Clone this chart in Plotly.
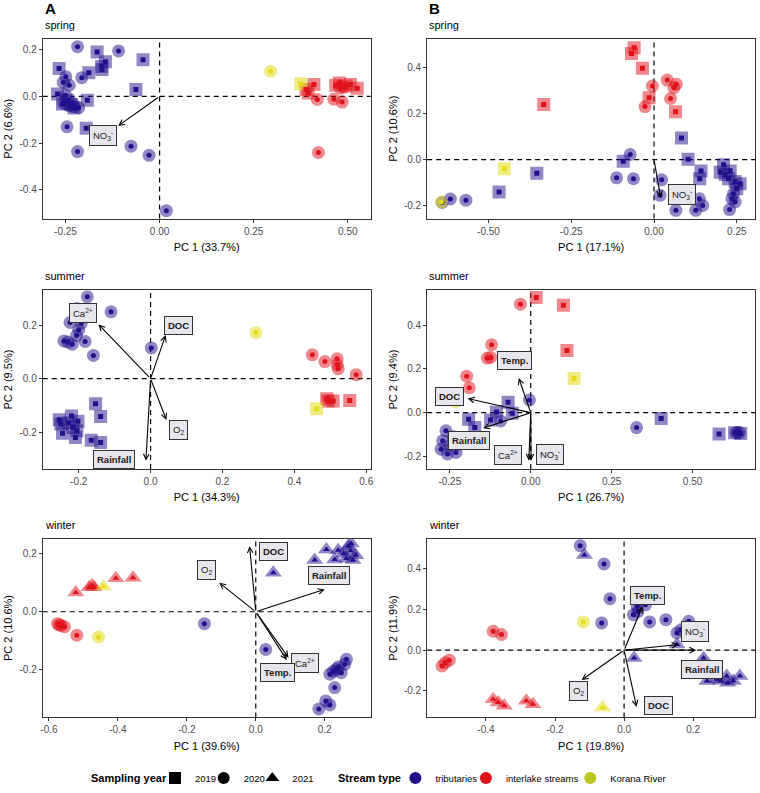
import plotly.graph_objects as go

# ─── PCA scores (PC1, PC2) ────────────────────────────────────────────────────
# A / spring
A_SPR_TRIB_2019 = [(-0.166, 0.190), (-0.144, 0.148), (-0.154, 0.128), (-0.153, 0.115),
                   (-0.188, 0.101), (-0.267, 0.120), (-0.044, 0.157), (-0.063, 0.030),
                   (-0.271, 0.010), (-0.245, -0.016), (-0.192, -0.016), (-0.258, -0.032),
                   (-0.227, -0.050), (-0.195, -0.136), (-0.235, -0.035)]
A_SPR_TRIB_2020 = [(-0.218, 0.213), (-0.109, 0.195), (-0.207, 0.080), (-0.249, 0.084),
                   (-0.256, 0.060), (-0.240, 0.048), (-0.250, 0.005), (-0.255, -0.030),
                   (-0.240, -0.040), (-0.228, -0.045), (-0.215, -0.048), (-0.232, -0.028),
                   (-0.246, -0.130), (-0.218, -0.236), (-0.076, -0.213), (-0.028, -0.252),
                   (0.018, -0.489)]
A_SPR_INTER_2019 = [(0.410, 0.051), (0.389, 0.030), (0.478, 0.058), (0.468, 0.048),
                    (0.507, 0.051), (0.525, 0.035), (0.495, 0.045), (0.395, 0.015)]
A_SPR_INTER_2020 = [(0.419, -0.013), (0.463, -0.012), (0.485, -0.024), (0.422, -0.240),
                    (0.490, 0.040), (0.480, 0.035)]
A_SPR_KOR_2019 = [(0.375, 0.054)]
A_SPR_KOR_2020 = [(0.295, 0.108)]
A_SPR_VARS = ["NO3"]
A_SPR_LOAD = [(-0.110, -0.126)]
A_SPR_LBL = [(-0.151, -0.169)]

# B / spring
B_SPR_TRIB_2019 = [(0.083, 0.094), (0.103, 0.001), (-0.093, -0.007), (-0.354, -0.059),
                   (-0.468, -0.141), (0.142, -0.050), (0.138, -0.083), (0.210, -0.022),
                   (0.200, -0.055), (0.230, -0.050), (0.225, -0.083), (0.260, -0.105),
                   (0.250, -0.127), (0.245, -0.095), (0.215, -0.065)]
B_SPR_TRIB_2020 = [(-0.072, 0.022), (-0.113, -0.079), (-0.062, -0.083), (0.023, -0.088),
                   (0.018, -0.155), (0.066, -0.220), (0.126, -0.220), (0.147, -0.199),
                   (0.137, -0.170), (0.235, -0.170), (0.240, -0.148), (0.228, -0.217),
                   (0.245, -0.184), (-0.568, -0.176), (-0.615, -0.171), (-0.640, -0.186)]
B_SPR_INTER_2019 = [(-0.060, 0.485), (-0.068, 0.460), (-0.035, 0.396), (-0.333, 0.239),
                    (-0.015, 0.268), (0.065, 0.207)]
B_SPR_INTER_2020 = [(-0.005, 0.319), (0.040, 0.345), (0.067, 0.327), (0.060, 0.312),
                    (0.050, 0.265), (-0.027, 0.230)]
B_SPR_KOR_2019 = [(-0.452, -0.040)]
B_SPR_KOR_2020 = [(-0.642, -0.184)]
B_SPR_VARS = ["NO3"]
B_SPR_LOAD = [(0.020, -0.165)]
B_SPR_LBL = [(0.085, -0.153)]

# A / summer
A_SUM_TRIB_2019 = [(-0.254, -0.154), (-0.250, -0.170), (-0.245, -0.204), (-0.220, -0.140),
                   (-0.216, -0.183), (-0.202, -0.159), (-0.209, -0.220), (-0.228, -0.165),
                   (-0.205, -0.195), (-0.153, -0.094), (-0.139, -0.142), (-0.165, -0.230),
                   (-0.139, -0.239)]
A_SUM_TRIB_2020 = [(-0.176, 0.306), (-0.110, 0.250), (-0.205, 0.262), (-0.224, 0.210),
                   (-0.193, 0.207), (-0.200, 0.182), (-0.206, 0.161), (-0.241, 0.141),
                   (-0.230, 0.137), (-0.218, 0.129), (-0.182, 0.139), (-0.159, 0.087),
                   (0.002, 0.115)]
A_SUM_INTER_2019 = [(0.494, -0.084), (0.508, -0.084), (0.554, -0.082), (0.490, -0.075)]
A_SUM_INTER_2020 = [(0.450, 0.089), (0.485, 0.064), (0.519, 0.074), (0.519, 0.052),
                    (0.522, 0.037), (0.572, 0.015)]
A_SUM_KOR_2019 = [(0.462, -0.113)]
A_SUM_KOR_2020 = [(0.293, 0.172)]
A_SUM_VARS = ["Ca", "DOC", "O2", "Rainfall"]
A_SUM_LOAD = [(-0.145, 0.203), (0.042, 0.163), (0.044, -0.155), (-0.013, -0.307)]
A_SUM_LBL = [(-0.188, 0.244), (0.079, 0.198), (0.079, -0.193), (-0.102, -0.302)]

# B / summer
B_SUM_TRIB_2019 = [(-0.070, 0.048), (-0.106, 0.003), (-0.057, -0.003), (-0.124, -0.033),
                   (-0.192, -0.030), (-0.173, -0.068), (0.403, -0.027), (0.582, -0.098),
                   (0.649, -0.095), (0.630, -0.092)]
B_SUM_TRIB_2020 = [(-0.004, 0.058), (0.327, -0.068), (0.634, -0.091), (0.645, -0.091),
                   (-0.093, -0.038), (-0.262, -0.083), (-0.272, -0.129), (-0.277, -0.167),
                   (-0.257, -0.189), (-0.231, -0.182), (-0.221, -0.144), (-0.200, -0.129),
                   (-0.240, -0.110), (-0.250, -0.150)]
B_SUM_INTER_2019 = [(0.017, 0.527), (0.101, 0.492), (0.112, 0.285)]
B_SUM_INTER_2020 = [(-0.032, 0.497), (-0.121, 0.311), (-0.134, 0.250), (-0.124, 0.253),
                    (-0.198, 0.167), (-0.190, 0.114)]
B_SUM_KOR_2019 = [(0.134, 0.156)]
B_SUM_KOR_2020 = [(-0.233, 0.050)]
B_SUM_VARS = ["Temp", "DOC", "Rainfall", "Ca", "NO3"]
B_SUM_LOAD = [(-0.037, 0.159), (-0.195, 0.065), (-0.147, -0.071), (-0.006, -0.220), (0.001, -0.220)]
B_SUM_LBL = [(-0.050, 0.238), (-0.250, 0.076), (-0.192, -0.129), (-0.070, -0.192), (0.060, -0.192)]

# A / winter
A_WIN_TRIB_2020 = [(-0.149, -0.041), (0.029, -0.130), (0.263, -0.164), (0.258, -0.181),
                   (0.215, -0.215), (0.234, -0.198), (0.248, -0.210), (0.240, -0.190),
                   (0.229, -0.261), (0.203, -0.307), (0.215, -0.321), (0.183, -0.335),
                   (0.225, -0.205)]
A_WIN_TRIB_2021 = [(0.051, 0.134), (0.205, 0.214), (0.239, 0.212), (0.268, 0.226),
                   (0.275, 0.210), (0.263, 0.183), (0.282, 0.178), (0.171, 0.178),
                   (0.229, 0.180), (0.277, 0.235), (0.255, 0.200), (0.290, 0.195)]
A_WIN_INTER_2020 = [(-0.575, -0.041), (-0.565, -0.047), (-0.555, -0.052), (-0.519, -0.081),
                    (-0.570, -0.045)]
A_WIN_INTER_2021 = [(-0.522, 0.066), (-0.483, 0.084), (-0.469, 0.084), (-0.406, 0.115),
                    (-0.356, 0.117), (-0.475, 0.090)]
A_WIN_KOR_2020 = [(-0.456, -0.087)]
A_WIN_KOR_2021 = [(-0.442, 0.087)]
A_WIN_VARS = ["DOC", "O2", "Rainfall", "Ca", "Temp"]
A_WIN_LOAD = [(-0.018, 0.226), (-0.106, 0.100), (0.200, 0.077), (0.095, -0.158), (0.090, -0.166)]
A_WIN_LBL = [(0.051, 0.206), (-0.144, 0.144), (0.212, 0.126), (0.142, -0.175), (0.063, -0.210)]

# B / winter
B_WIN_TRIB_2020 = [(-0.127, 0.514), (-0.058, 0.424), (-0.041, 0.253), (-0.065, 0.134),
                   (0.027, 0.174), (0.038, 0.215), (0.062, 0.223), (0.074, 0.139),
                   (0.121, 0.150), (0.187, 0.142), (0.153, 0.085), (0.165, 0.100),
                   (0.040, 0.190)]
B_WIN_TRIB_2021 = [(-0.115, 0.468), (0.029, -0.038), (0.153, 0.028), (0.230, -0.038),
                   (0.240, -0.152), (0.268, -0.143), (0.297, -0.127), (0.316, -0.152),
                   (0.335, -0.127), (0.300, -0.160), (0.280, -0.150)]
B_WIN_INTER_2020 = [(-0.379, 0.093), (-0.355, 0.077), (-0.527, -0.078), (-0.518, -0.062),
                    (-0.506, -0.049)]
B_WIN_INTER_2021 = [(-0.379, -0.241), (-0.364, -0.258), (-0.347, -0.274), (-0.283, -0.249),
                    (-0.264, -0.266)]
B_WIN_KOR_2020 = [(-0.118, 0.139)]
B_WIN_KOR_2021 = [(-0.062, -0.282)]
B_WIN_VARS = ["Temp", "NO3", "Rainfall", "O2", "DOC"]
B_WIN_LOAD = [(0.053, 0.215), (0.158, 0.028), (0.209, 0.000), (-0.123, -0.147), (0.036, -0.279)]
B_WIN_LBL = [(0.069, 0.267), (0.206, 0.093), (0.225, -0.095), (-0.131, -0.200), (0.099, -0.274)]

# explained variance (%) per season: spring, summer, winter
A_VAR_PC1 = [33.7, 34.3, 39.6]
A_VAR_PC2 = [6.6, 9.5, 10.6]
B_VAR_PC1 = [17.1, 26.7, 19.8]
B_VAR_PC2 = [10.6, 9.4, 11.9]
SEASONS = ["spring", "summer", "winter"]

STREAMS = ["tributaries", "interlake streams", "Korana River"]
YEARS = [2019, 2020, 2021]

# ─── styling ──────────────────────────────────────────────────────────────────
FONT = "Liberation Sans, Arial, sans-serif"
SOLID = {"tributaries": "#21108c", "interlake streams": "#e0121a", "Korana River": "#e3dc1a"}
HALO = {"tributaries": "rgba(33,16,140,0.5)", "interlake streams": "rgba(224,18,26,0.5)",
        "Korana River": "rgba(227,220,26,0.55)"}
LEGEND_COL = {"tributaries": "#21108c", "interlake streams": "#e0121a", "Korana River": "#bcc51e"}
SYMBOL = {2019: "square", 2020: "circle", 2021: "triangle-up"}
HALO_SIZE = {2019: 13, 2020: 13, 2021: 15}
DOT_SIZE = {2019: 5, 2020: 5, 2021: 6}
LABELS = {"NO3": "NO<sub>3</sub><sup>-</sup>", "Ca": "Ca<sup>2+</sup>", "O2": "O<sub>2</sub>",
          "DOC": "<b>DOC</b>", "Rainfall": "<b>Rainfall</b>", "Temp": "<b>Temp.</b>"}

W, H = 760, 793
COL_PX = [(41, 371), (428, 758)]
ROW_PX = [(39, 220), (292, 472), (542, 722)]
LEG_Y_PX = 783
YEAR_LEG_X_PX = [154, 203, 252]        # left edge of each legend key box
STREAM_LEG_X_PX = [396, 467, 572]

# panel layout: (column, row, groups, vars, loadings, label pos, x range, y range, x ticks, y ticks, fmt x, fmt y)
PANELS = [
    (0, 0, [("tributaries", 2019, A_SPR_TRIB_2019), ("tributaries", 2020, A_SPR_TRIB_2020),
            ("interlake streams", 2019, A_SPR_INTER_2019), ("interlake streams", 2020, A_SPR_INTER_2020),
            ("Korana River", 2019, A_SPR_KOR_2019), ("Korana River", 2020, A_SPR_KOR_2020)],
     A_SPR_VARS, A_SPR_LOAD, A_SPR_LBL, [-0.3105, 0.5605], [-0.523, 0.247],
     [-0.25, 0, 0.25, 0.5], [-0.4, -0.2, 0, 0.2], ".2f", ".1f"),
    (1, 0, [("tributaries", 2019, B_SPR_TRIB_2019), ("tributaries", 2020, B_SPR_TRIB_2020),
            ("interlake streams", 2019, B_SPR_INTER_2019), ("interlake streams", 2020, B_SPR_INTER_2020),
            ("Korana River", 2019, B_SPR_KOR_2019), ("Korana River", 2020, B_SPR_KOR_2020)],
     B_SPR_VARS, B_SPR_LOAD, B_SPR_LBL, [-0.685, 0.305], [-0.256, 0.524],
     [-0.5, -0.25, 0, 0.25], [-0.2, 0, 0.2, 0.4], ".2f", ".1f"),
    (0, 1, [("tributaries", 2019, A_SUM_TRIB_2019), ("tributaries", 2020, A_SUM_TRIB_2020),
            ("interlake streams", 2019, A_SUM_INTER_2019), ("interlake streams", 2020, A_SUM_INTER_2020),
            ("Korana River", 2019, A_SUM_KOR_2019), ("Korana River", 2020, A_SUM_KOR_2020)],
     A_SUM_VARS, A_SUM_LOAD, A_SUM_LBL, [-0.300, 0.612], [-0.338, 0.331],
     [-0.2, 0, 0.2, 0.4, 0.6], [-0.2, 0, 0.2], ".1f", ".1f"),
    (1, 1, [("tributaries", 2019, B_SUM_TRIB_2019), ("tributaries", 2020, B_SUM_TRIB_2020),
            ("interlake streams", 2019, B_SUM_INTER_2019), ("interlake streams", 2020, B_SUM_INTER_2020),
            ("Korana River", 2019, B_SUM_KOR_2019), ("Korana River", 2020, B_SUM_KOR_2020)],
     B_SUM_VARS, B_SUM_LOAD, B_SUM_LBL, [-0.320, 0.693], [-0.258, 0.561],
     [-0.25, 0, 0.25, 0.5], [-0.2, 0, 0.2, 0.4], ".2f", ".1f"),
    (0, 2, [("tributaries", 2020, A_WIN_TRIB_2020), ("tributaries", 2021, A_WIN_TRIB_2021),
            ("interlake streams", 2020, A_WIN_INTER_2020), ("interlake streams", 2021, A_WIN_INTER_2021),
            ("Korana River", 2020, A_WIN_KOR_2020), ("Korana River", 2021, A_WIN_KOR_2021)],
     A_WIN_VARS, A_WIN_LOAD, A_WIN_LBL, [-0.618, 0.333], [-0.364, 0.252],
     [-0.6, -0.4, -0.2, 0, 0.2], [-0.2, 0, 0.2], ".1f", ".1f"),
    (1, 2, [("tributaries", 2020, B_WIN_TRIB_2020), ("tributaries", 2021, B_WIN_TRIB_2021),
            ("interlake streams", 2020, B_WIN_INTER_2020), ("interlake streams", 2021, B_WIN_INTER_2021),
            ("Korana River", 2020, B_WIN_KOR_2020), ("Korana River", 2021, B_WIN_KOR_2021)],
     B_WIN_VARS, B_WIN_LOAD, B_WIN_LBL, [-0.570, 0.379], [-0.331, 0.549],
     [-0.4, -0.2, 0, 0.2], [-0.2, 0, 0.2, 0.4], ".1f", ".1f"),
]

fig = go.Figure()
layout_axes = {}
shapes, annotations = [], []

for i, (col, row, groups, vars_, load, lbl, xr, yr, xt, yt, fx, fy) in enumerate(PANELS):
    n = "" if i == 0 else str(i + 1)
    xa, ya = "x" + n, "y" + n
    pc1 = (A_VAR_PC1 if col == 0 else B_VAR_PC1)[row]
    pc2 = (A_VAR_PC2 if col == 0 else B_VAR_PC2)[row]
    xdom = [COL_PX[col][0] / W, COL_PX[col][1] / W]
    ydom = [1 - ROW_PX[row][1] / H, 1 - ROW_PX[row][0] / H]

    common = dict(showgrid=False, zeroline=False, showline=True, mirror=True,
                  linecolor="#333333", linewidth=1, ticks="outside", ticklen=3,
                  tickcolor="#333333", tickfont=dict(size=10, color="#4d4d4d", family=FONT))
    layout_axes["xaxis" + n] = dict(common, domain=xdom, range=xr, anchor=ya,
                                    tickvals=xt, ticktext=[format(t, fx) for t in xt],
                                    title=dict(text=f"PC 1 ({pc1}%)", standoff=7,
                                               font=dict(size=11, color="black", family=FONT)))
    layout_axes["yaxis" + n] = dict(common, domain=ydom, range=yr, anchor=xa,
                                    tickvals=yt, ticktext=[format(t, fy) for t in yt],
                                    title=dict(text=f"PC 2 ({pc2}%)", standoff=4,
                                               font=dict(size=11, color="black", family=FONT)))

    # dashed zero lines
    dash = dict(color="black", width=1.2, dash="5px,4px")
    shapes.append(dict(type="line", xref=xa, yref=ya + " domain", x0=0, x1=0, y0=0, y1=1,
                       line=dash, layer="below"))
    shapes.append(dict(type="line", xref=xa + " domain", yref=ya, x0=0, x1=1, y0=0, y1=0,
                       line=dash, layer="below"))

    # halos first, then solid centres
    for halo in (True, False):
        for stream, year, pts in groups:
            fig.add_trace(go.Scatter(
                x=[p[0] for p in pts], y=[p[1] for p in pts], xaxis=xa, yaxis=ya,
                mode="markers", showlegend=False, hoverinfo="skip",
                marker=dict(symbol=SYMBOL[year],
                            size=HALO_SIZE[year] if halo else DOT_SIZE[year],
                            color=HALO[stream] if halo else SOLID[stream],
                            line=dict(width=0)),
            ))

    # loading arrows + labels
    for v, (hx, hy) in zip(vars_, load):
        annotations.append(dict(x=hx, y=hy, ax=0, ay=0, xref=xa, yref=ya, axref=xa, ayref=ya,
                                text="", showarrow=True, arrowhead=5, arrowsize=1,
                                arrowwidth=1.1, arrowcolor="black", standoff=0))
    for v, (lx, ly) in zip(vars_, lbl):
        annotations.append(dict(x=lx, y=ly, xref=xa, yref=ya, text=LABELS[v], showarrow=False,
                                bgcolor="#e6e6ec", bordercolor="#333333", borderwidth=1,
                                borderpad=3, font=dict(size=9.5, color="#1a1a1a", family=FONT)))

    # season title
    annotations.append(dict(x=xdom[0], y=ydom[1] + 14 / H, xref="paper", yref="paper",
                            xanchor="left", yanchor="middle", showarrow=False,
                            text=SEASONS[row], font=dict(size=11, color="black", family=FONT)))

# panel letters
for letter, col in (("A", 0), ("B", 1)):
    annotations.append(dict(x=COL_PX[col][0] / W, y=1 - 9 / H, xref="paper", yref="paper",
                            xanchor="left", yanchor="middle", showarrow=False,
                            text=f"<b>{letter}</b>", font=dict(size=15, color="black", family=FONT)))

# legend titles
for title, right_px in (("Sampling year", 168), ("Stream type", 404)):
    annotations.append(dict(x=right_px / W, y=1 - LEG_Y_PX / H, xref="paper", yref="paper",
                            xanchor="right", yanchor="middle", showarrow=False,
                            text=f"<b>{title}</b>", font=dict(size=11, color="black", family=FONT)))

# one single-entry legend per key, so each key sits where the reference puts it
legends = {}
keys = [(str(y), dict(symbol=SYMBOL[y], size=8, color="black")) for y in YEARS] + \
       [(s, dict(symbol="circle", size=8, color=LEGEND_COL[s])) for s in STREAMS]
for k, ((name, marker), xpx) in enumerate(zip(keys, YEAR_LEG_X_PX + STREAM_LEG_X_PX)):
    lname = "legend" if k == 0 else f"legend{k + 1}"
    fig.add_trace(go.Scatter(x=[None], y=[None], mode="markers", name=name, legend=lname,
                             marker=marker))
    legends[lname] = dict(orientation="h", x=xpx / W, xanchor="left", y=1 - LEG_Y_PX / H,
                          yanchor="middle", font=dict(size=9.5, family=FONT, color="black"),
                          itemsizing="constant", bgcolor="rgba(0,0,0,0)", borderwidth=0)

fig.update_layout(
    **layout_axes,
    **legends,
    width=W, height=H,
    margin=dict(l=0, r=0, t=0, b=0),
    paper_bgcolor="white", plot_bgcolor="white",
    font=dict(family=FONT, color="black"),
    shapes=shapes, annotations=annotations,
)

fig.write_html("out.html", config={"displayModeBar": False},
               post_script="document.body.style.margin='0px';")
